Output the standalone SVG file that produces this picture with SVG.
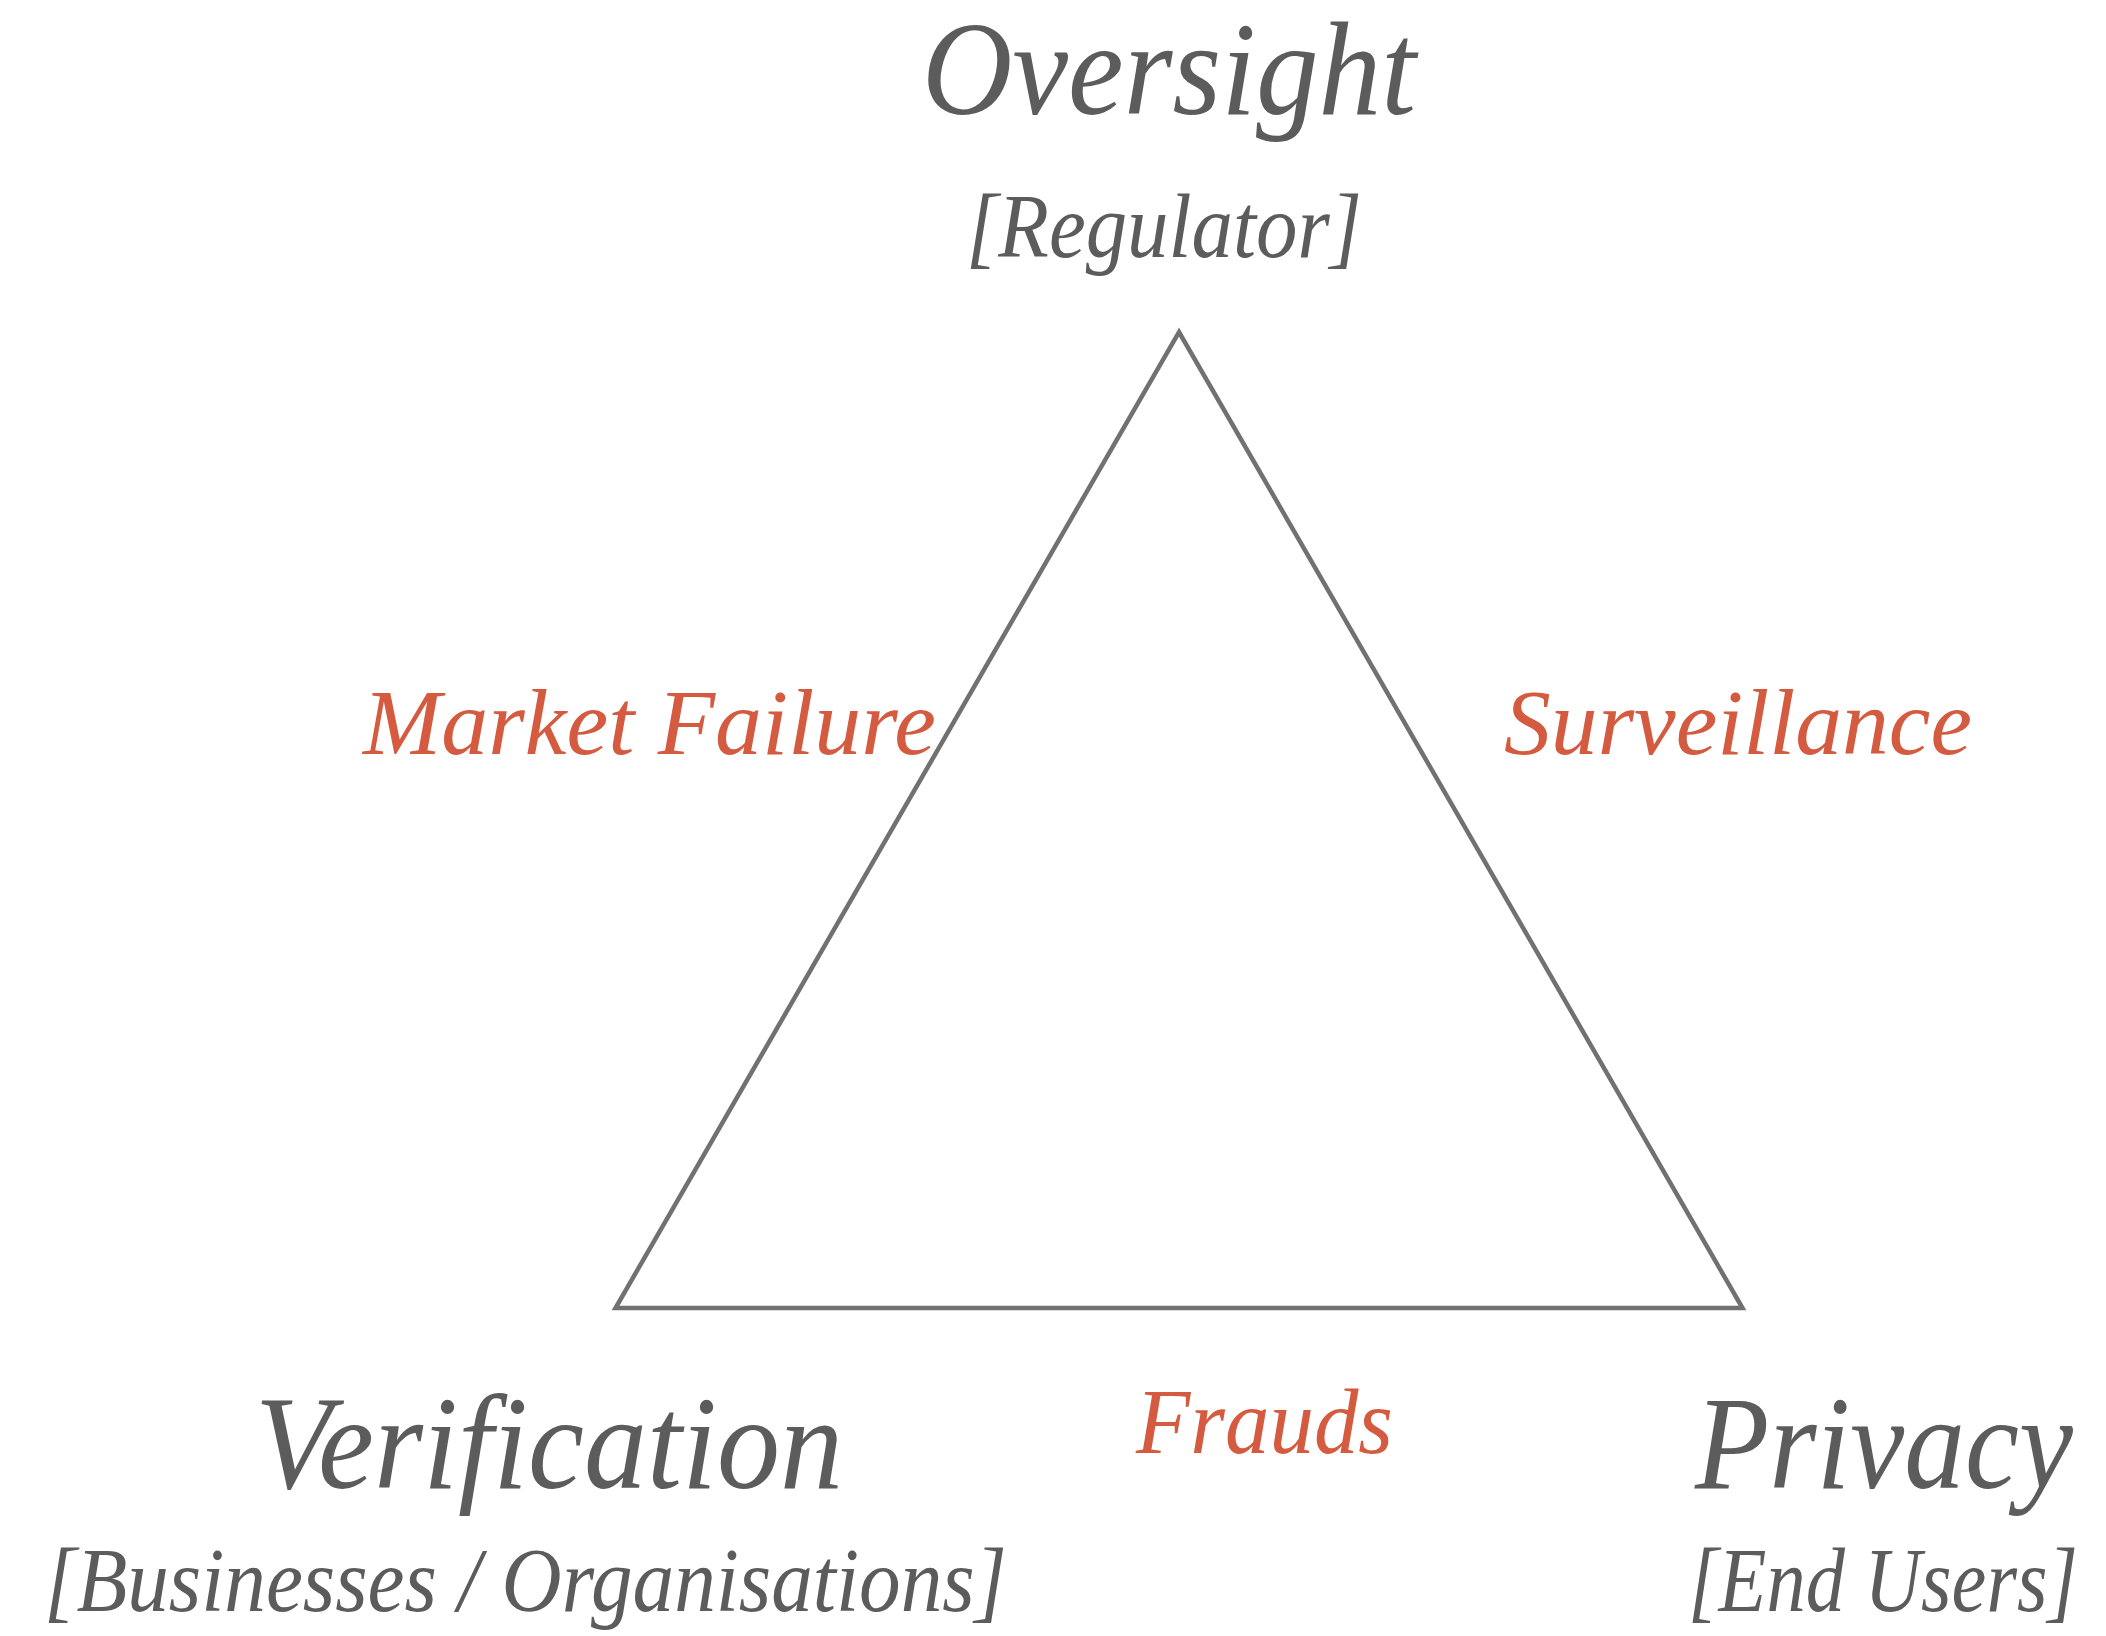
<svg xmlns="http://www.w3.org/2000/svg" width="2106" height="1636" viewBox="0 0 2106 1636">
<style>
.t{font-family:"Liberation Serif","Times New Roman",serif;font-style:italic;text-anchor:start}
.g{fill:#5c5c5c}
.r{fill:#d45a40}
.big{font-size:134px}
.sub{font-size:90px}
.lab{font-size:94px}
</style>
<rect width="2106" height="1636" fill="#ffffff"/>
<g id="connectors">
<polygon points="1179,332 615.5,1308 1742.5,1308" fill="none" stroke="#717171" stroke-width="4.5" stroke-linejoin="miter"/>
</g>
<g id="oversight">
<text class="t g big" x="922" y="114" textLength="494" lengthAdjust="spacingAndGlyphs">Oversight</text>
<text class="t g sub" x="966" y="257" textLength="396" lengthAdjust="spacingAndGlyphs">[Regulator]</text>
</g>
<g id="verification">
<text class="t g big" x="255" y="1488" textLength="588" lengthAdjust="spacingAndGlyphs">Verification</text>
<text class="t g sub" x="44" y="1611" textLength="963" lengthAdjust="spacingAndGlyphs">[Businesses / Organisations]</text>
</g>
<g id="privacy">
<text class="t g big" x="1695" y="1488" textLength="378" lengthAdjust="spacingAndGlyphs">Privacy</text>
<text class="t g sub" x="1688" y="1611" textLength="390" lengthAdjust="spacingAndGlyphs">[End Users]</text>
</g>
<g id="market-failure">
<text class="t r lab" x="363" y="754" textLength="573" lengthAdjust="spacingAndGlyphs">Market Failure</text>
</g>
<g id="surveillance">
<text class="t r lab" x="1504" y="754" textLength="468" lengthAdjust="spacingAndGlyphs">Surveillance</text>
</g>
<g id="frauds">
<text class="t r lab" x="1136" y="1453" textLength="257" lengthAdjust="spacingAndGlyphs">Frauds</text>
</g>
</svg>
